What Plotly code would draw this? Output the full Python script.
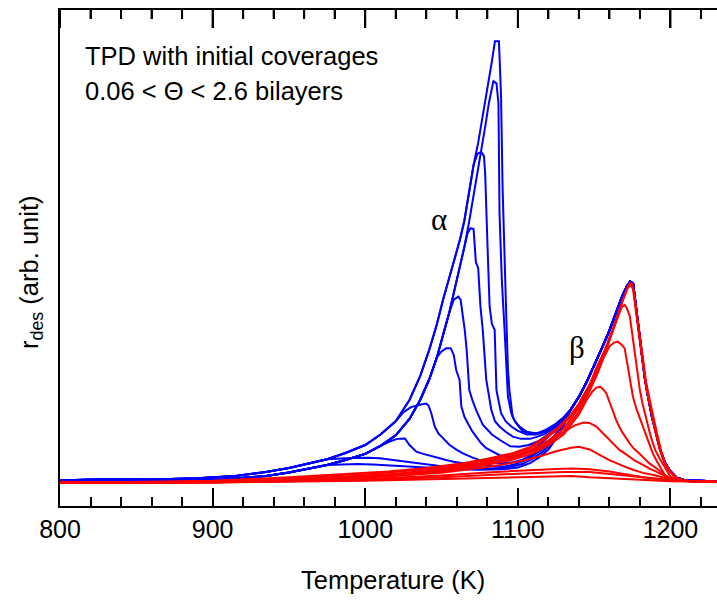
import plotly.graph_objects as go

# ---------------- data ----------------
# shared leading edge of the alpha (blue) desorption, two edges of the bundle
T_ENV = [800, 830, 860, 890, 915, 935, 950, 962, 975, 987, 1000, 1010, 1020, 1029, 1036, 1042,
         1047, 1051, 1055, 1059, 1062, 1065, 1068, 1071, 1074, 1077, 1079, 1081, 1083, 1085]
ENV_HI = [0.6, 0.9, 0.8, 1.1, 1.6, 2.5, 3.4, 4.3, 5.4, 6.8, 8.6, 11, 14, 18.8, 24.2, 30.2,
          36, 41.5, 46.5, 51, 55, 59.5, 66, 72, 77, 83, 87.5, 91.5, 95.5, 100]
ENV_LO = [0.3, 0.5, 0.4, 0.6, 1.0, 1.6, 2.4, 3.2, 4.1, 5.2, 6.6, 8.4, 10.8, 14.5, 18.8, 23.5,
          28.5, 33.5, 38.5, 44.5, 49, 53.5, 59, 65, 71, 77, 81.5, 86, 90, 94]

# which edge each blue curve follows and up to which temperature
BLUE_EDGE = ["hi", "lo", "hi", "lo", "lo", "lo", "hi", "lo", "hi", "lo"]
BLUE_EDGE_END = [1085, 1083, 1071, 1065, 1055, 1047, 1020, 1010, 975, 975]

# individual tops and tails of the blue curves
B1_T = [1087.6, 1088.3, 1089, 1090, 1091.2, 1092.4, 1093.5, 1094.5, 1096.6, 1099, 1103, 1108, 1113, 1118, 1124, 1130]
B1_V = [100, 94, 87.6, 67, 50.6, 38, 26, 21, 15, 13.5, 11.8, 11.2, 11.3, 12, 13.2, 14.9]
B2_T = [1084, 1086, 1087.3, 1088, 1089.5, 1091.3, 1093.5, 1095.7, 1098, 1101, 1106, 1112, 1118, 1124, 1130]
B2_V = [91, 90.5, 86, 61, 46, 34.7, 19.6, 15.8, 14, 12.8, 11.6, 11.2, 11.8, 13, 14.7]
B3_T = [1073.5, 1076, 1077.8, 1078.6, 1080, 1081.5, 1083, 1084.8, 1086, 1089, 1092, 1095.7, 1100, 1106, 1112, 1118, 1124, 1130]
B3_V = [74.5, 75, 74, 70, 55, 40, 36, 34.7, 21, 15.8, 14, 12.8, 11.8, 11, 11, 11.6, 12.8, 14.6]
B4_T = [1067, 1069, 1071, 1072.5, 1074, 1075.5, 1077, 1079.3, 1082.6, 1085, 1088, 1092, 1096.7, 1102, 1108, 1113, 1118, 1124, 1130]
B4_V = [56.5, 57.7, 57.5, 50, 48.7, 40, 34.7, 23.4, 16.6, 14, 12.8, 11.6, 10.5, 10, 10, 10.5, 11.2, 12.5, 14.4]
B5_T = [1058, 1061, 1062.5, 1064, 1065.2, 1066.5, 1068.2, 1070.5, 1072.7, 1077, 1083, 1088, 1095, 1101, 1107, 1113, 1118, 1124, 1130]
B5_V = [41.5, 42.2, 41.5, 37.7, 34.7, 30, 21, 18.5, 16.5, 13.2, 11, 9.8, 8.3, 8.2, 8.6, 9.4, 10.5, 12, 14.2]
B6_T = [1050, 1053, 1056, 1058, 1059.6, 1061.8, 1063, 1065, 1067.3, 1070, 1072.7, 1076, 1079.3, 1084, 1088, 1093,
        1097, 1102, 1108, 1113, 1118, 1124, 1130]
B6_V = [29.8, 30.5, 30.5, 29, 25.6, 23.4, 17.3, 15, 13.5, 11.8, 10.5, 9, 7.9, 7, 6.3, 6, 6, 6.4, 7.3, 8.4, 9.8, 11.8, 14]
B7_T = [1025, 1030, 1036.5, 1040, 1041.5, 1043.3, 1045.5, 1048, 1050, 1053, 1055.3, 1060, 1064, 1070, 1075, 1080,
        1086, 1091, 1097, 1103, 1109, 1114, 1119, 1124, 1130]
B7_V = [16, 17.2, 17.8, 18, 17.5, 15.8, 12.8, 11.2, 10.5, 9.4, 8.6, 7.5, 6.7, 5.8, 5.2, 4.8, 4.5, 4.5, 4.7, 5.3,
        6.4, 7.6, 8.8, 10.8, 13.6]
B8_T = [1016, 1021, 1026, 1029, 1033.5, 1038, 1042, 1047, 1053, 1058, 1064, 1070, 1075, 1080, 1086, 1092, 1098,
        1104, 1110, 1115, 1120, 1125, 1130]
B8_V = [9.4, 10, 10.1, 8.6, 7.1, 6.6, 6.3, 5.8, 5.2, 4.8, 4.5, 4.3, 4.1, 3.9, 3.7, 3.8, 4.2, 5.0, 6.2, 7.4, 8.6, 10.6, 13.4]
B9_T = [987, 995, 1002, 1009.5, 1014, 1018, 1027, 1035, 1042, 1050, 1064, 1075, 1086, 1095, 1103, 1110, 1116, 1121, 1126, 1130]
B9_V = [5.6, 5.7, 5.7, 5.6, 5.4, 5.2, 4.8, 4.4, 4.1, 3.8, 3.4, 3.3, 3.3, 3.6, 4.3, 5.6, 7.0, 8.6, 10.8, 13.2]
B10_T = [985, 995, 1005, 1015, 1030, 1045, 1060, 1075, 1090, 1100, 1108, 1114, 1120, 1125, 1130]
B10_V = [4.2, 4.3, 4.2, 4.0, 3.7, 3.4, 3.1, 3.0, 3.1, 3.5, 4.5, 5.8, 7.6, 10, 13]

# saturated beta peak contained in every blue curve
BLUE_BETA_T = [1135, 1140, 1145, 1150, 1155, 1160, 1164, 1168, 1171, 1173.5, 1175.5, 1177, 1178.5, 1180, 1181.5,
               1183.2, 1185, 1186.5, 1188, 1190, 1193, 1196.3, 1199.6, 1204, 1210, 1218, 1230]
BLUE_BETA_V = [16.8, 19.5, 22.8, 26.5, 30.5, 34.5, 38.3, 42, 44.3, 45.6, 45.2, 41, 36.5, 32, 27.8,
               23.8, 20.2, 17.5, 14.8, 12.2, 7.8, 4.7, 2.8, 1.2, 0.6, 0.5, 0.4]

# beta (red) curves
R1_T = [800, 850, 900, 950, 985, 1015, 1040, 1064, 1080, 1097, 1108, 1118, 1127, 1135, 1140, 1147, 1151.4, 1156.8,
        1162.3, 1166, 1168.8, 1171.5, 1173.4, 1175, 1176.7, 1178.5, 1180, 1181.5, 1183.2, 1185, 1186.5, 1188,
        1189.8, 1193, 1196.3, 1199.6, 1204, 1210, 1220, 1230]
R1_V = [0.0, 0.2, 0.5, 1.3, 2.0, 2.6, 3.4, 4.5, 5.5, 6.8, 8.2, 10.4, 12.8, 15.6, 18.0, 22.3, 26.0, 30.0,
        35.0, 38.8, 41.5, 44.0, 45.3, 45.0, 40.7, 36.0, 31.7, 27.5, 23.4, 20.0, 17.3, 14.6,
        12.0, 7.5, 4.5, 2.6, 1.1, 0.5, 0.3, 0.2]
R2_T = [800, 850, 900, 950, 985, 1015, 1040, 1064, 1080, 1097, 1108, 1118, 1127, 1135, 1140, 1147, 1151.4, 1156.8,
        1162.3, 1166, 1169, 1172, 1174.2, 1176, 1177.5, 1179.2, 1181, 1182.5, 1184, 1186, 1187.5, 1189,
        1191, 1194, 1197, 1200.5, 1205, 1211, 1220, 1230]
R2_V = [0.3, 0.1, 0.4, 1.1, 1.8, 2.4, 3.1, 4.2, 5.2, 6.5, 7.9, 10.0, 12.4, 15.2, 17.6, 21.8, 25.6, 29.6,
        34.6, 38.5, 41.6, 44.2, 44.8, 43.5, 39.5, 35, 30.5, 26.5, 23, 19.5, 17, 14.5,
        11.5, 7.2, 4.2, 2.3, 1.0, 0.5, 0.3, 0.3]
R3_T = [800, 850, 900, 950, 990, 1020, 1050, 1075, 1097, 1110, 1120, 1130, 1140, 1147, 1152, 1157, 1162, 1166, 1168,
        1170, 1171.5, 1173.4, 1175, 1176.7, 1178.5, 1180, 1181.5, 1183.2, 1185, 1186.5, 1188, 1190, 1193, 1196,
        1200, 1205, 1212, 1230]
R3_V = [0.1, 0.2, 0.3, 0.8, 1.5, 2.1, 3.2, 4.5, 6.1, 7.7, 9.6, 12.3, 17, 21.5, 25.3, 29.2, 34.2, 38.2, 39.8,
        40.3, 39.5, 37.7, 33.5, 29.4, 25, 21, 18.3, 15.8, 13.4, 11.3, 9.5, 7.5, 5.5, 3.8,
        1.5, 0.7, 0.4, 0.3]
R4_T = [800, 850, 900, 950, 990, 1020, 1050, 1075, 1097, 1110, 1120, 1130, 1140, 1147, 1152, 1156, 1160, 1163,
        1165.5, 1168, 1170, 1172, 1173.7, 1175.4, 1177.5, 1179.6, 1182, 1184, 1186, 1188.4, 1191, 1193, 1196.3,
        1200, 1203, 1210, 1230]
R4_V = [0.0, 0.1, 0.3, 0.7, 1.3, 1.9, 2.9, 4.1, 5.7, 7.2, 9.0, 11.6, 16.2, 20.8, 24.6, 28.2, 30.9, 31.8,
        32, 31.3, 30.5, 26.4, 23, 19.6, 17, 15, 12.8, 10.5, 8.6, 6.7, 5, 3.8, 1.8,
        1.0, 0.6, 0.4, 0.3]
R5_T = [800, 850, 900, 950, 990, 1020, 1050, 1075, 1097, 1110, 1120, 1130, 1140, 1145, 1149, 1151.5, 1154, 1156,
        1158, 1161, 1164.4, 1166.5, 1168.8, 1173.2, 1176, 1179.6, 1183, 1186, 1192.5, 1199, 1205, 1230]
R5_V = [0.2, 0.0, 0.2, 0.6, 1.2, 1.7, 2.6, 3.8, 5.3, 6.7, 8.5, 11.0, 15.5, 18.8, 20.8, 21.6, 21.8, 21.2,
        20.3, 17.3, 14.3, 12.7, 11.3, 9, 7.8, 6.7, 5.5, 4.5, 2.9, 1.0, 0.5, 0.3]
R6_T = [800, 850, 900, 950, 1000, 1040, 1070, 1090, 1100, 1110, 1120, 1130, 1137, 1143, 1147, 1151.4, 1155.7, 1160,
        1163, 1166.6, 1170, 1173, 1177, 1182, 1186, 1190.6, 1195, 1199, 1205, 1230]
R6_V = [0.0, 0.1, 0.2, 0.5, 1.4, 2.5, 3.8, 5.0, 6.0, 7.5, 9.4, 11.5, 13.0, 13.7, 13.6, 12.8, 11.3, 9.8,
        8.7, 7.5, 6.7, 6.0, 5.0, 4.1, 3.3, 2.6, 1.8, 1.2, 0.6, 0.3]
R7_T = [800, 850, 900, 950, 1000, 1050, 1080, 1100, 1114, 1125, 1135, 1140, 1147, 1151, 1155.7, 1160, 1164.4, 1170,
        1175.4, 1182, 1189, 1196, 1204, 1212, 1230]
R7_V = [0.1, 0.0, 0.3, 0.6, 1.2, 2.3, 3.6, 4.8, 6.0, 7.2, 8.0, 8.2, 7.6, 6.8, 6.0, 5.2, 4.5, 3.7,
        3.0, 2.3, 1.8, 1.2, 0.8, 0.4, 0.3]
R8_T = [800, 900, 950, 1000, 1050, 1080, 1100, 1114, 1125, 1136, 1147, 1160, 1173, 1182, 1190, 1200, 1230]
R8_V = [0.0, 0.2, 0.4, 0.9, 1.7, 2.4, 2.8, 3.0, 3.2, 3.3, 3.1, 2.6, 1.8, 1.3, 1.0, 0.6, 0.3]
R9_T = [800, 900, 1000, 1050, 1100, 1130, 1147, 1165, 1185, 1205, 1230]
R9_V = [0.0, 0.1, 0.7, 1.3, 2.1, 2.5, 2.5, 1.9, 1.1, 0.5, 0.3]
R10_T = [800, 900, 1000, 1050, 1100, 1135, 1147, 1170, 1200, 1230]
R10_V = [0.1, 0.1, 0.5, 0.9, 1.3, 1.6, 1.3, 0.9, 0.4, 0.3]

BLUE_TAILS = [(B1_T, B1_V), (B2_T, B2_V), (B3_T, B3_V), (B4_T, B4_V), (B5_T, B5_V),
              (B6_T, B6_V), (B7_T, B7_V), (B8_T, B8_V), (B9_T, B9_V), (B10_T, B10_V)]
RED_CURVES = [(R10_T, R10_V), (R9_T, R9_V), (R8_T, R8_V), (R7_T, R7_V), (R6_T, R6_V),
              (R5_T, R5_V), (R4_T, R4_V), (R3_T, R3_V), (R2_T, R2_V), (R1_T, R1_V)]

X_RANGE = [800, 1230.5]
Y_RANGE = [-5.2, 107.1]
MAJOR_TICKS = [800, 900, 1000, 1100, 1200]
MINOR_TICKS = [820, 840, 860, 880, 920, 940, 960, 980, 1020, 1040, 1060, 1080,
               1120, 1140, 1160, 1180, 1220]

# ---------------- figure ----------------
FONT = "Liberation Sans"
SERIF = "Liberation Serif"
BLUE = "#0000ff"
RED = "#ff0000"
PLOT_H = 601 - 10 - 95  # plot-area height in px

fig = go.Figure()

for (tt, vv), edge, end in zip(BLUE_TAILS, BLUE_EDGE, BLUE_EDGE_END):
    env = ENV_HI if edge == "hi" else ENV_LO
    xs = [t for t in T_ENV if t <= end] + list(tt) + list(BLUE_BETA_T)
    ys = [v for t, v in zip(T_ENV, env) if t <= end] + list(vv) + list(BLUE_BETA_V)
    fig.add_trace(go.Scatter(x=xs, y=ys, mode="lines", line=dict(color=BLUE, width=2),
                             hoverinfo="skip", showlegend=False))

for tt, vv in RED_CURVES:
    fig.add_trace(go.Scatter(x=tt, y=vv, mode="lines", line=dict(color=RED, width=2),
                             hoverinfo="skip", showlegend=False))

fig.update_layout(width=717, height=601, margin=dict(l=60, r=0, t=10, b=95),
                  plot_bgcolor="white", paper_bgcolor="white", template="none",
                  showlegend=False, font=dict(family=FONT, size=25, color="black"))
fig.update_xaxes(range=X_RANGE, showline=True, linecolor="black", linewidth=2,
                 ticks="inside", ticklen=18, tickwidth=2, tickcolor="black", dtick=100,
                 mirror="allticks", showgrid=False, zeroline=False,
                 tickfont=dict(family=FONT, size=25, color="black"),
                 minor=dict(ticks="inside", ticklen=9, dtick=20, tickcolor="black", tickwidth=2))
fig.update_yaxes(range=Y_RANGE, showline=True, linecolor="black", linewidth=2,
                 ticks="", showticklabels=False, showgrid=False, zeroline=False)

# inward ticks along the top frame edge, placed at the axis tick values
tick_shapes = []
for val, ln in [(v, 18) for v in MAJOR_TICKS] + [(v, 9) for v in MINOR_TICKS]:
    tick_shapes.append(dict(type="line", xref="x", yref="paper", x0=val, x1=val,
                            y0=1, y1=1 - ln / PLOT_H, line=dict(color="black", width=2),
                            layer="above"))
fig.update_layout(shapes=tick_shapes)

ann = [
    dict(text="TPD with initial coverages", x=0.035, y=(506 - 56) / 496, xanchor="left", yanchor="middle",
         font=dict(family=FONT, size=25.5, color="black")),
    dict(text="0.06 < \u0398 < 2.6 bilayers",
         x=0.035, y=(506 - 91) / 496, xanchor="left", yanchor="middle",
         font=dict(family=FONT, size=25.5, color="black")),
    dict(text="Temperature (K)", x=(393 - 60) / 657, y=(506 - 580) / 496, xanchor="center", yanchor="middle",
         font=dict(family=FONT, size=25.5, color="black")),
    dict(text="r<sub>des</sub> (arb. unit)", x=(31 - 60) / 657, y=(506 - 272) / 496, xanchor="center",
         yanchor="middle", textangle=-90, font=dict(family=FONT, size=25.5, color="black")),
    dict(text="\u03b1", x=(439 - 60) / 657, y=(506 - 219) / 496, xanchor="center", yanchor="middle",
         font=dict(family=SERIF, size=31, color="black")),
    dict(text="\u03b2", x=(577 - 60) / 657, y=(506 - 347) / 496, xanchor="center", yanchor="middle",
         font=dict(family=SERIF, size=31, color="black")),
]
for a in ann:
    a.update(xref="paper", yref="paper", showarrow=False)
fig.update_layout(annotations=ann)

fig.write_html("out.html")
